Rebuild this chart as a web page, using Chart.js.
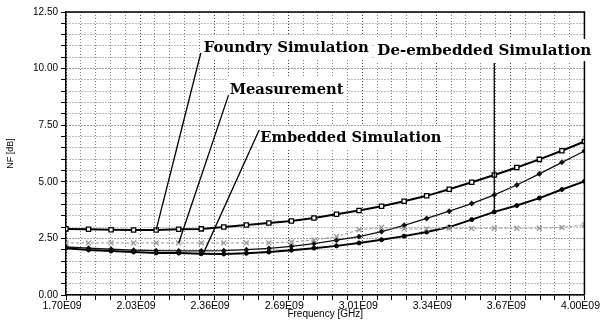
<!DOCTYPE html>
<html>
<head>
<meta charset="utf-8">
<script src="https://cdn.jsdelivr.net/npm/chart.js@4.4.1/dist/chart.umd.min.js"></script>
<style>
  html, body { margin: 0; padding: 0; background: #fff; }
  #wrap { width: 604px; height: 324px; position: relative; }
</style>
</head>
<body>
<div id="wrap"><canvas id="c" width="604" height="324"></canvas></div>
<script>
// ---- data (frequency in GHz, NF in dB) ----
const freqGHz = [1.7, 1.8, 1.9, 2.0, 2.1, 2.2, 2.3, 2.4, 2.5, 2.6, 2.7, 2.8, 2.9, 3.0, 3.1, 3.2, 3.3, 3.4, 3.5, 3.6, 3.7, 3.8, 3.9, 4.0];
const foundrySim   = [2.92, 2.90, 2.88, 2.87, 2.87, 2.90, 2.92, 3.00, 3.09, 3.18, 3.27, 3.40, 3.57, 3.73, 3.92, 4.14, 4.38, 4.67, 4.98, 5.30, 5.63, 5.99, 6.37, 6.78];
const measurement  = [2.30, 2.30, 2.30, 2.30, 2.30, 2.30, 2.30, 2.30, 2.30, 2.30, 2.34, 2.43, 2.58, 2.88, 2.98, 2.92, 2.92, 2.94, 2.94, 2.95, 2.95, 2.95, 2.98, 3.10];
const embeddedSim  = [2.12, 2.07, 2.02, 1.98, 1.96, 1.95, 1.95, 1.96, 2.00, 2.06, 2.15, 2.27, 2.42, 2.58, 2.80, 3.08, 3.38, 3.70, 4.04, 4.42, 4.86, 5.35, 5.86, 6.36];
const deembeddedSim= [2.07, 1.99, 1.94, 1.90, 1.86, 1.85, 1.82, 1.81, 1.84, 1.90, 1.98, 2.07, 2.17, 2.30, 2.44, 2.60, 2.78, 3.00, 3.33, 3.67, 3.95, 4.28, 4.66, 5.02];

const xTickLabels = ['1.70E09', '2.03E09', '2.36E09', '2.69E09', '3.01E09', '3.34E09', '3.67E09', '4.00E09'];
const yTickLabels = ['0.00', '2.50', '5.00', '7.50', '10.00', '12.50'];
const xMin = 1.7, xMax = 4.0, yMin = 0, yMax = 12.5;
const minorPerMajor = 5;

// annotation labels: text, text left (GHz), text middle (dB), pixel width, pointer start -> end (data)
const annotations = [
  { text: 'Foundry Simulation',     x: 2.311, y: 10.95, w: 165, from: [2.298, 10.69], to: [2.1, 2.88] },
  { text: 'De-embedded Simulation', x: 3.081, y: 10.82, w: 214, from: [3.6, 10.25],   to: [3.6, 3.60] },
  { text: 'Measurement',            x: 2.426, y: 9.10,  w: 114, from: [2.421, 8.83],  to: [2.2, 2.30] },
  { text: 'Embedded Simulation',    x: 2.562, y: 6.98,  w: 181, from: [2.557, 7.29],  to: [2.31, 1.85] }
];

const pts = arr => arr.map((v, i) => ({ x: freqGHz[i], y: v }));

const nMajX = xTickLabels.length - 1;
const nMajY = yTickLabels.length - 1;

const annotPlugin = {
  id: 'annot',
  afterDatasetsDraw(chart) {
    const ctx = chart.ctx, xs = chart.scales.x, ys = chart.scales.y, a = chart.chartArea;
    ctx.save();
    // frame
    ctx.strokeStyle = '#000';
    ctx.lineWidth = 1.5;
    ctx.beginPath();
    ctx.moveTo(a.left, a.top); ctx.lineTo(a.right, a.top); ctx.lineTo(a.right, a.bottom);
    ctx.stroke();
    ctx.font = 'bold 15px "DejaVu Serif"';
    ctx.textBaseline = 'middle';
    // white boxes
    annotations.forEach(an => {
      const px = xs.getPixelForValue(an.x), py = ys.getPixelForValue(an.y);
      ctx.fillStyle = '#fff';
      ctx.fillRect(px - 3, py - 11, an.w + 6, 22);
    });
    // pointer lines
    ctx.strokeStyle = '#000';
    ctx.lineWidth = 1.3;
    annotations.forEach(an => {
      ctx.beginPath();
      ctx.moveTo(xs.getPixelForValue(an.from[0]), ys.getPixelForValue(an.from[1]));
      ctx.lineTo(xs.getPixelForValue(an.to[0]), ys.getPixelForValue(an.to[1]));
      ctx.stroke();
    });
    // texts
    ctx.fillStyle = '#000';
    annotations.forEach(an => {
      const px = xs.getPixelForValue(an.x), py = ys.getPixelForValue(an.y);
      const w = ctx.measureText(an.text).width;
      ctx.save();
      ctx.translate(px, py);
      ctx.scale(an.w / w, 1);
      ctx.fillText(an.text, 0, 1);
      ctx.restore();
    });
    ctx.restore();
  }
};

new Chart(document.getElementById('c'), {
  type: 'line',
  data: {
    datasets: [
      { label: 'Foundry Simulation', data: pts(foundrySim), borderColor: '#000', borderWidth: 2,
        pointStyle: 'rect', pointRadius: 3, pointBorderWidth: 1.3, pointBackgroundColor: '#fff', pointBorderColor: '#000', tension: 0 },
      { label: 'Measurement', data: pts(measurement), borderColor: '#999', borderWidth: 1, borderDash: [3, 2],
        pointStyle: 'crossRot', pointRadius: 3.5, pointBorderWidth: 1.3, pointBorderColor: '#999', tension: 0 },
      { label: 'Embedded Simulation', data: pts(embeddedSim), borderColor: '#111', borderWidth: 1.3,
        pointStyle: 'rectRot', pointRadius: 2, pointBackgroundColor: '#111', pointBorderColor: '#111', tension: 0 },
      { label: 'De-embedded Simulation', data: pts(deembeddedSim), borderColor: '#000', borderWidth: 2,
        pointStyle: 'circle', pointRadius: 2, pointBorderWidth: 1, pointBackgroundColor: '#000', pointBorderColor: '#000', tension: 0 }
    ]
  },
  options: {
    responsive: false,
    animation: false,
    devicePixelRatio: 1,
    layout: { padding: { left: 0, right: 15, top: 12, bottom: 0 } },
    plugins: { legend: { display: false }, tooltip: { enabled: false } },
    scales: {
      x: {
        type: 'linear', min: xMin, max: xMax,
        afterBuildTicks: s => {
          const n = nMajX * minorPerMajor, t = [];
          for (let i = 0; i <= n; i++) t.push({ value: xMin + (xMax - xMin) * i / n });
          s.ticks = t;
        },
        afterFit: s => { s.height = 29; },
        ticks: {
          autoSkip: false, maxRotation: 0, minRotation: 0, padding: 0, labelOffset: -4,
          color: '#000', font: { family: 'Liberation Sans, Arial', size: 10.5 },
          callback: (v, i) => (i % minorPerMajor === 0 ? xTickLabels[i / minorPerMajor] : '')
        },
        grid: {
          color: c => (c.index % minorPerMajor === 0 ? 'rgba(0,0,0,0.75)' : 'rgba(0,0,0,0.5)'),
          lineWidth: 1, tickLength: 5, tickColor: '#000'
        },
        border: { display: true, color: '#000', width: 1.5, dash: [1, 2] },
        title: { display: true, text: 'Frequency [GHz]', color: '#000',
                 font: { family: 'Liberation Sans, Arial', size: 10 }, padding: { top: 0, bottom: 4 } }
      },
      y: {
        type: 'linear', min: yMin, max: yMax,
        afterBuildTicks: s => {
          const n = nMajY * minorPerMajor, t = [];
          for (let i = 0; i <= n; i++) t.push({ value: yMin + (yMax - yMin) * i / n });
          s.ticks = t;
        },
        afterFit: s => { s.width = 66; },
        ticks: {
          autoSkip: false, padding: 3,
          color: '#000', font: { family: 'Liberation Sans, Arial', size: 10 },
          callback: (v, i) => (i % minorPerMajor === 0 ? yTickLabels[i / minorPerMajor] : '')
        },
        grid: {
          color: c => (c.index % minorPerMajor === 0 ? 'rgba(0,0,0,0.75)' : 'rgba(0,0,0,0.5)'),
          lineWidth: 1, tickLength: 5, tickColor: '#000'
        },
        border: { display: true, color: '#000', width: 1.5, dash: [1, 2] },
        title: { display: true, text: 'NF [dB]', color: '#000',
                 font: { family: 'Liberation Sans, Arial', size: 9 }, padding: { top: 5, bottom: 0 } }
      }
    }
  },
  plugins: [annotPlugin]
});
</script>
</body>
</html>
